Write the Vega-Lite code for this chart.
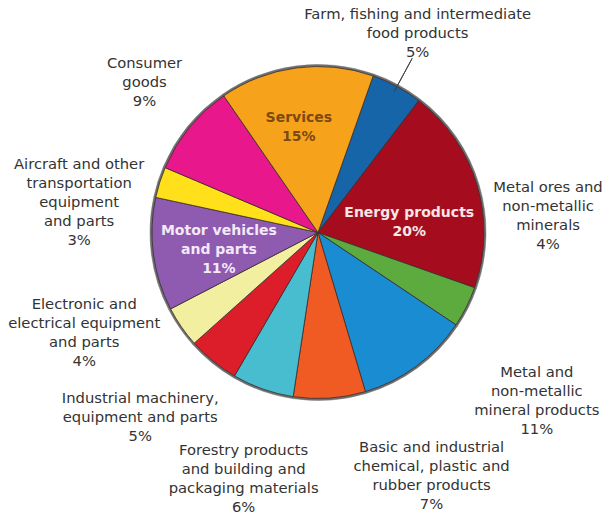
{
  "$schema": "https://vega.github.io/schema/vega-lite/v6.json",
  "width": 570,
  "height": 465,
  "padding": {"left": 33, "top": 0, "right": 0, "bottom": 50},
  "autosize": {"type": "none"},
  "background": "white",
  "config": {"view": {"stroke": null}},
  "data": {
    "values": [
      {"i": 1, "c": "Farm, fishing and intermediate food products", "v": 5, "label": "Farm, fishing and intermediate\nfood products\n5%"},
      {"i": 2, "c": "Energy products", "v": 20, "label": "Energy products\n20%"},
      {"i": 3, "c": "Metal ores and non-metallic minerals", "v": 4, "label": "Metal ores and\nnon-metallic\nminerals\n4%"},
      {"i": 4, "c": "Metal and non-metallic mineral products", "v": 11, "label": "Metal and\nnon-metallic\nmineral products\n11%"},
      {"i": 5, "c": "Basic and industrial chemical, plastic and rubber products", "v": 7, "label": "Basic and industrial\nchemical, plastic and\nrubber products\n7%"},
      {"i": 6, "c": "Forestry products and building and packaging materials", "v": 6, "label": "Forestry products\nand building and\npackaging materials\n6%"},
      {"i": 7, "c": "Industrial machinery, equipment and parts", "v": 5, "label": "Industrial machinery,\nequipment and parts\n5%"},
      {"i": 8, "c": "Electronic and electrical equipment and parts", "v": 4, "label": "Electronic and\nelectrical equipment\nand parts\n4%"},
      {"i": 9, "c": "Motor vehicles and parts", "v": 11, "label": "Motor vehicles\nand parts\n11%"},
      {"i": 10, "c": "Aircraft and other transportation equipment and parts", "v": 3, "label": "Aircraft and other\ntransportation\nequipment\nand parts\n3%"},
      {"i": 11, "c": "Consumer goods", "v": 9, "label": "Consumer\ngoods\n9%"},
      {"i": 12, "c": "Services", "v": 15, "label": "Services\n15%"}
    ]
  },
  "encoding": {
    "theta": {"field": "v", "type": "quantitative", "stack": true, "scale": {"domain": [0, 100], "range": [0.3386, 6.6218]}},
    "order": {"field": "i", "type": "quantitative", "sort": "ascending"},
    "detail": {"field": "c", "type": "nominal"}
  },
  "layer": [
    {
      "mark": {"type": "arc", "radius": 168, "fill": "#6e6e6e", "stroke": "#6e6e6e", "strokeWidth": 0.5}
    },
    {
      "mark": {"type": "arc", "radius": 166, "stroke": "#3a2e2e", "strokeWidth": 0.8},
      "encoding": {
        "color": {
          "field": "c", "type": "nominal", "legend": null,
          "scale": {
            "domain": ["Farm, fishing and intermediate food products", "Energy products", "Metal ores and non-metallic minerals", "Metal and non-metallic mineral products", "Basic and industrial chemical, plastic and rubber products", "Forestry products and building and packaging materials", "Industrial machinery, equipment and parts", "Electronic and electrical equipment and parts", "Motor vehicles and parts", "Aircraft and other transportation equipment and parts", "Consumer goods", "Services"],
            "range": ["#1565a8", "#a50d1e", "#5daa3e", "#1a8dd2", "#f05a23", "#48bdd0", "#dc1e2a", "#f2efa0", "#8e5bb0", "#ffe01a", "#e8178c", "#f7a21b"]
          }
        }
      }
    },
    {
      "mark": {"type": "arc", "radius": 160, "radius2": 198, "padAngle": 1.5, "fill": "transparent", "stroke": "#444444", "strokeWidth": 1},
      "encoding": {"strokeOpacity": {"condition": {"test": "datum.i === 1", "value": 1}, "value": 0}}
    },
    {
      "mark": {"type": "text", "radius": 222, "dx": -6, "dy": -22, "lineBreak": "\n", "lineHeight": 19, "fontSize": 14.75, "font": "DejaVu Sans", "fill": "#333333", "align": "center", "baseline": "middle"},
      "encoding": {"text": {"condition": {"test": "datum.i === 1", "field": "label"}, "value": ""}}
    },
    {
      "mark": {"type": "text", "radius": 90, "dx": 5, "dy": 6.5, "lineBreak": "\n", "lineHeight": 19, "fontSize": 14, "fontWeight": "bold", "font": "DejaVu Sans", "fill": "#f6e6e6", "align": "center", "baseline": "middle"},
      "encoding": {"text": {"condition": {"test": "datum.i === 2", "field": "label"}, "value": ""}}
    },
    {
      "mark": {"type": "text", "radius": 198, "dx": 53, "dy": -133.5, "lineBreak": "\n", "lineHeight": 19, "fontSize": 14.75, "font": "DejaVu Sans", "fill": "#333333", "align": "center", "baseline": "middle"},
      "encoding": {"text": {"condition": {"test": "datum.i === 3", "field": "label"}, "value": ""}}
    },
    {
      "mark": {"type": "text", "radius": 266, "dx": 61, "dy": -73.5, "lineBreak": "\n", "lineHeight": 19, "fontSize": 14.75, "font": "DejaVu Sans", "fill": "#333333", "align": "center", "baseline": "middle"},
      "encoding": {"text": {"condition": {"test": "datum.i === 4", "field": "label"}, "value": ""}}
    },
    {
      "mark": {"type": "text", "radius": 252, "dx": 96, "dy": -35.5, "lineBreak": "\n", "lineHeight": 19, "fontSize": 14.75, "font": "DejaVu Sans", "fill": "#333333", "align": "center", "baseline": "middle"},
      "encoding": {"text": {"condition": {"test": "datum.i === 5", "field": "label"}, "value": ""}}
    },
    {
      "mark": {"type": "text", "radius": 260, "dx": 12, "dy": -27, "lineBreak": "\n", "lineHeight": 19, "fontSize": 14.75, "font": "DejaVu Sans", "fill": "#333333", "align": "center", "baseline": "middle"},
      "encoding": {"text": {"condition": {"test": "datum.i === 6", "field": "label"}, "value": ""}}
    },
    {
      "mark": {"type": "text", "radius": 256, "dx": -16, "dy": -32, "lineBreak": "\n", "lineHeight": 19, "fontSize": 14.75, "font": "DejaVu Sans", "fill": "#333333", "align": "center", "baseline": "middle"},
      "encoding": {"text": {"condition": {"test": "datum.i === 7", "field": "label"}, "value": ""}}
    },
    {
      "mark": {"type": "text", "radius": 250, "dx": -28, "dy": -69.5, "lineBreak": "\n", "lineHeight": 19, "fontSize": 14.75, "font": "DejaVu Sans", "fill": "#333333", "align": "center", "baseline": "middle"},
      "encoding": {"text": {"condition": {"test": "datum.i === 8", "field": "label"}, "value": ""}}
    },
    {
      "mark": {"type": "text", "radius": 100, "dx": 0, "dy": -15, "lineBreak": "\n", "lineHeight": 19, "fontSize": 14, "fontWeight": "bold", "font": "DejaVu Sans", "fill": "#f3e9f7", "align": "center", "baseline": "middle"},
      "encoding": {"text": {"condition": {"test": "datum.i === 9", "field": "label"}, "value": ""}}
    },
    {
      "mark": {"type": "text", "radius": 237, "dx": -13, "dy": 4, "lineBreak": "\n", "lineHeight": 19, "fontSize": 14.75, "font": "DejaVu Sans", "fill": "#333333", "align": "center", "baseline": "middle"},
      "encoding": {"text": {"condition": {"test": "datum.i === 10", "field": "label"}, "value": ""}}
    },
    {
      "mark": {"type": "text", "radius": 229, "dx": 4, "dy": -24, "lineBreak": "\n", "lineHeight": 19, "fontSize": 14.75, "font": "DejaVu Sans", "fill": "#333333", "align": "center", "baseline": "middle"},
      "encoding": {"text": {"condition": {"test": "datum.i === 11", "field": "label"}, "value": ""}}
    },
    {
      "mark": {"type": "text", "radius": 107, "dx": -5, "dy": -8.5, "lineBreak": "\n", "lineHeight": 19, "fontSize": 14, "fontWeight": "bold", "font": "DejaVu Sans", "fill": "#7b4a12", "align": "center", "baseline": "middle"},
      "encoding": {"text": {"condition": {"test": "datum.i === 12", "field": "label"}, "value": ""}}
    }
  ]
}
